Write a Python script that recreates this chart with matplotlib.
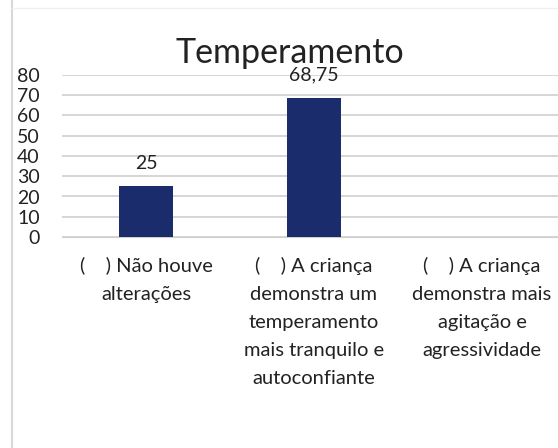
import numpy as np
import matplotlib
matplotlib.use('Agg')
from matplotlib import pyplot as plt

categorias = ['(    ) Não houve\nalterações',
              '(    ) A criança\ndemonstra um\ntemperamento\nmais tranquilo e\nautoconfiante',
              '(    ) A criança\ndemonstra mais\nagitação e\nagressividade']
valores = [25, 68.75, np.nan]
rotulos = ['25', '68,75', '']
yticks = [0, 10, 20, 30, 40, 50, 60, 70, 80]

plt.rcParams['font.family'] = ['Lato', 'DejaVu Sans']

fig = plt.figure(figsize=(5.58, 4.48), dpi=100)
# moldura do scan
fig.add_artist(plt.Line2D([12/558, 12/558], [0, 1], color='#d8d8d8', lw=1.5))
fig.add_artist(plt.Line2D([12/558, 1], [1-8/448, 1-8/448], color='#f0f0f0', lw=1))

ax = fig.add_axes([62/558, 1-237/448, 504/558, 162/448])
x = np.arange(len(categorias))
ax.bar(x, valores, width=0.32, color='#1a2c6b', zorder=3)
for xi, v, r in zip(x, valores, rotulos):
    if r:
        ax.text(xi, v + 8.5, r, ha='center', va='baseline', fontsize=14, color='#222222')

ax.set_xlim(-0.5, 2.5)
ax.set_ylim(0, 80)
ax.set_yticks(yticks)
ax.set_yticklabels([str(t) for t in yticks], fontsize=14, color='#222222')
ax.yaxis.grid(True, color='#cfcfcf', lw=1.2)
ax.set_xticks(x)
ax.set_xticklabels(categorias, fontsize=14.5, color='#222222', linespacing=1.8)
ax.tick_params(axis='y', length=0, pad=16)
ax.tick_params(axis='x', length=0, pad=14)
for s in ['top', 'right', 'left']:
    ax.spines[s].set_visible(False)
ax.spines['bottom'].set_color('#cfcfcf')
ax.set_axisbelow(True)

fig.text(290/558, 1-53/448, 'Temperamento', ha='center', va='center', fontsize=24.5, color='#222222')

plt.savefig('out.png', dpi=100)
